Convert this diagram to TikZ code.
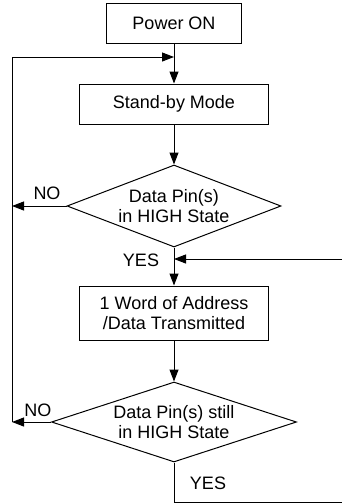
\documentclass[tikz,border=0pt]{standalone}
\usepackage{fontspec}
\setmainfont{Liberation Sans}
\usetikzlibrary{arrows.meta,shapes.geometric}
\begin{document}
\begin{tikzpicture}[x=0.5pt, y=-0.5pt, >={Triangle[length=6pt,width=4.5pt]}, line width=0.5pt,
		box/.style={draw, rectangle, minimum width=#1, minimum height=20pt, inner sep=2pt, align=center, font=\fontsize{9}{10}\selectfont},
		dec/.style={draw, diamond, aspect=3, inner sep=0pt, align=center, font=\fontsize{9}{10}\selectfont},
		lbl/.style={inner sep=0pt, font=\fontsize{9}{10}\selectfont}]
		\useasboundingbox (0,0) rectangle (342,504);
		\node[box=67.5pt] (pwr) at (174,23) {Power ON};
		\node[box=94.5pt] (sby) at (174,104) {Stand-by Mode};
		\node[dec, minimum width=107pt, minimum height=41pt] (hi) at (174,206) {Data Pin(s)\\in HIGH State};
		\node[box=94.5pt, minimum height=27pt] (tx) at (174,313) {1 Word of Address\\/Data Transmitted};
		\node[dec, minimum width=122.5pt, minimum height=40pt] (still) at (174,422) {Data Pin(s) still\\in HIGH State};
		\coordinate (top) at (174,57);
		\coordinate (lmid) at (12,206);
		\coordinate (lbot) at (12,422);
		\coordinate (yin) at (174,259);
		\coordinate (rbot) at (352,502);
		\node[lbl] (no1) at (47,193) {NO};
		\node[lbl] (yes1) at (141,260) {YES};
		\node[lbl] (no2) at (38,410) {NO};
		\node[lbl] (yes2) at (208,483) {YES};
		\draw[->] (pwr) -- (sby);
		\draw[->] (sby) -- (hi);
		\draw[->] (hi) -- (tx);
		\draw[->] (tx) -- (still);
		\draw[->] (hi.west) -- (lmid);
		\draw[->] (still.west) -- (lbot);
		\draw[->] (lbot) |- (top);
		\draw[->] (still.south) |- (rbot) |- (yin);
	\end{tikzpicture}
\end{document}
